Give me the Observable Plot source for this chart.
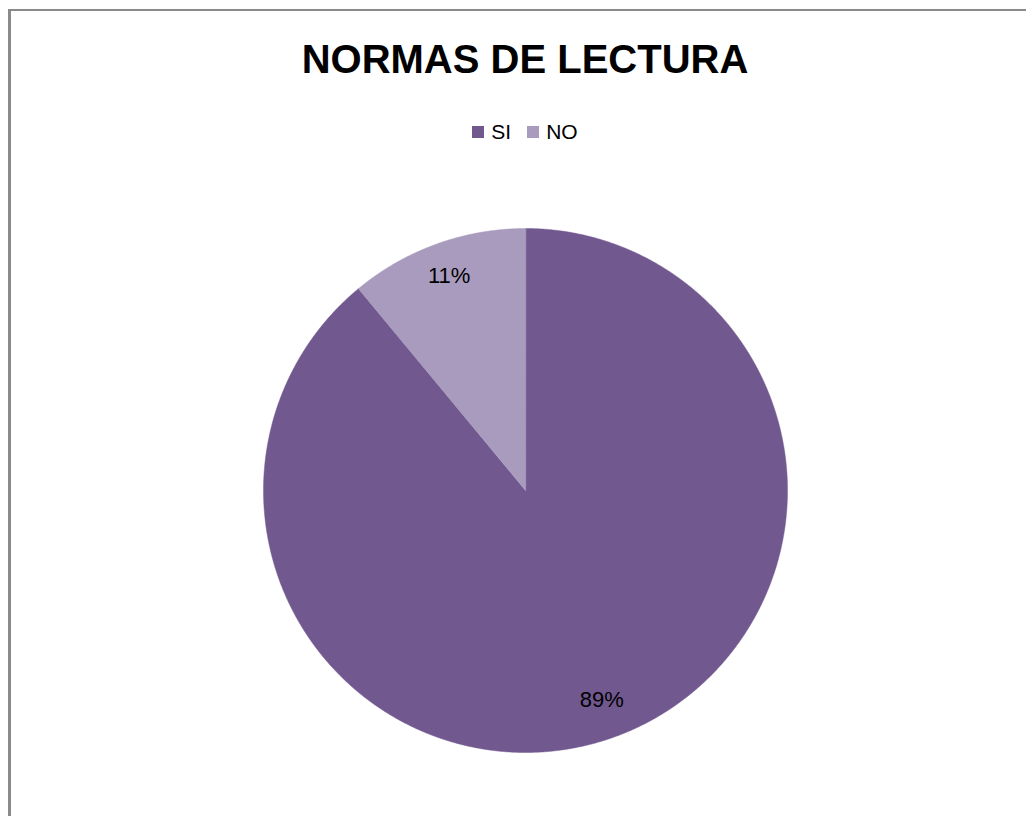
<!DOCTYPE html>
<html>
<head>
<meta charset="utf-8">
<script src="https://cdn.jsdelivr.net/npm/d3@7"></script>
<script src="https://cdn.jsdelivr.net/npm/@observablehq/plot@0.6"></script>
<style>
  html, body { margin: 0; padding: 0; background: #fff; }
  #wrap { position: relative; width: 1026px; height: 816px; overflow: hidden; font-family: "Liberation Sans", Arial, sans-serif; }
  #frame { position: absolute; left: 8px; top: 9px; width: 1100px; height: 900px; border-left: 3px solid #8a8a8a; border-top: 2px solid #8a8a8a; box-sizing: border-box; }
  #title { position: absolute; left: 0; width: 1050px; top: 39px; text-align: center; font-weight: bold; font-size: 40px; line-height: 40px; color: #000; white-space: nowrap; }
  #legend { position: absolute; left: 0; width: 1050px; top: 120px; display: flex; justify-content: center; align-items: center; font-size: 21px; line-height: 24px; color: #000; }
  .item { display: flex; align-items: center; margin: 0 8px; }
  .sw { width: 12px; height: 12px; margin-right: 7px; }
  #chart { position: absolute; left: 0; top: 0; }
</style>
</head>
<body>
<div id="wrap">
  <div id="frame"></div>
  <div id="title"></div>
  <div id="legend"></div>
  <div id="chart"></div>
</div>
<script>
const chartTitle = "NORMAS DE LECTURA";
const categories = ["SI", "NO"];
const values = [89, 11];
const colors = ["#71588F", "#A99BBD"];
const labels = ["89%", "11%"];

document.getElementById("title").textContent = chartTitle;
const legend = document.getElementById("legend");
categories.forEach((c, i) => {
  const it = document.createElement("div");
  it.className = "item";
  const sw = document.createElement("div");
  sw.className = "sw";
  sw.style.background = colors[i];
  const t = document.createElement("span");
  t.textContent = c;
  it.appendChild(sw); it.appendChild(t);
  legend.appendChild(it);
});

const data = categories.map((c, i) => ({ key: c, value: values[i], label: labels[i] }));
const arcs = d3.pie().sort(null).value(d => d.value)(data);

const pts = [];
arcs.forEach(a => {
  const key = a.data.key;
  pts.push({ key, x: 0, y: 0 });
  const n = Math.max(2, Math.ceil((a.endAngle - a.startAngle) / 0.004));
  for (let k = 0; k <= n; k++) {
    const ang = a.startAngle + (a.endAngle - a.startAngle) * k / n;
    pts.push({ key, x: Math.sin(ang), y: Math.cos(ang) });
  }
});

const labelR = 0.86;
const labelPts = arcs.map(a => {
  const m = (a.startAngle + a.endAngle) / 2;
  return { key: a.data.key, text: a.data.label, x: labelR * Math.sin(m), y: labelR * Math.cos(m) };
});

const plot = Plot.plot({
  width: 1026,
  height: 816,
  marginLeft: 263,
  marginRight: 239,
  marginTop: 228,
  marginBottom: 64,
  x: { domain: [-1, 1], axis: null },
  y: { domain: [-1, 1], axis: null },
  color: { domain: categories, range: colors },
  style: { background: "transparent", fontFamily: "Liberation Sans, Arial, sans-serif" },
  marks: [
    Plot.line(pts, { x: "x", y: "y", z: "key", fill: "key", stroke: "key", strokeWidth: 0.5, curve: "linear-closed" }),
    Plot.text(labelPts, { x: "x", y: "y", text: "text", fontSize: 22, fill: "#000", dy: -3 })
  ]
});
document.getElementById("chart").appendChild(plot);
</script>
</body>
</html>
